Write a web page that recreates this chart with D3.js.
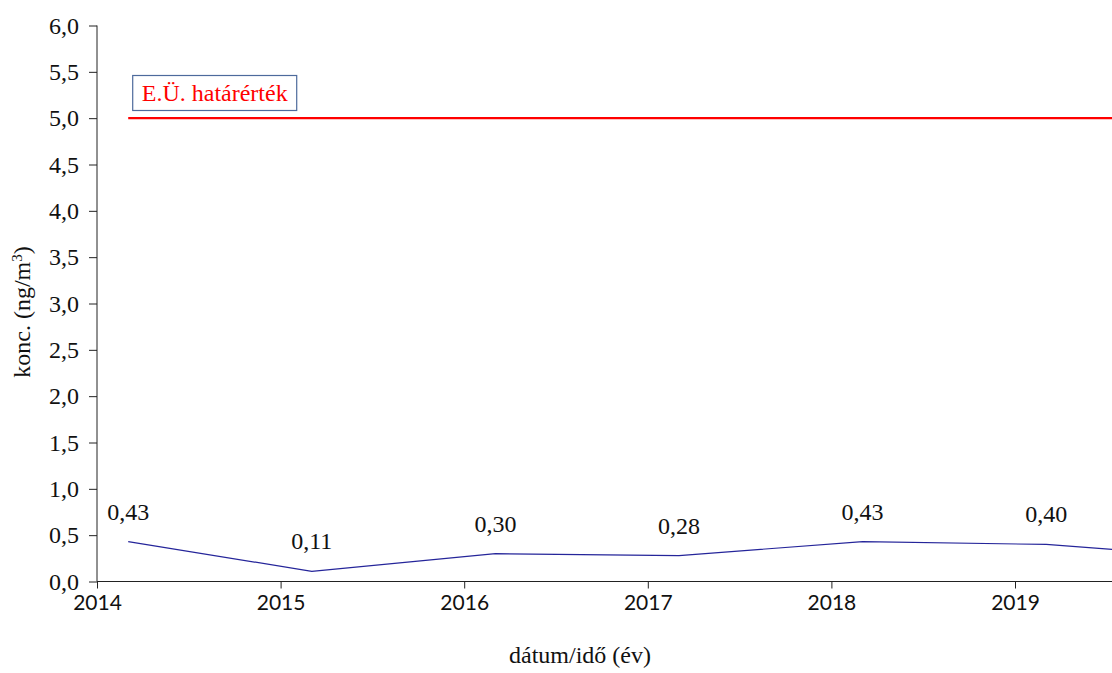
<!DOCTYPE html>
<html>
<head>
<meta charset="utf-8">
<script src="https://cdn.jsdelivr.net/npm/d3@7"></script>
<style>
  html, body { margin: 0; padding: 0; background: #fff; }
  svg { display: block; }
</style>
</head>
<body>
<svg id="chart" width="1112" height="673"></svg>
<script>
// ---- data ----
const years = [2014.17, 2015.17, 2016.17, 2017.17, 2018.17, 2019.17, 2020.17];
const values = [0.43, 0.11, 0.30, 0.28, 0.43, 0.40, 0.25];
const valueLabels = ["0,43", "0,11", "0,30", "0,28", "0,43", "0,40", "0,25"];
const limitYears = [2014.17, 2020.5];
const limitValues = [5.0, 5.0];
const limitLabel = "E.Ü. határérték";
const yTicks = [0, 0.5, 1, 1.5, 2, 2.5, 3, 3.5, 4, 4.5, 5, 5.5, 6];
const xTicks = [2014, 2015, 2016, 2017, 2018, 2019];
const xTitle = "dátum/idő (év)";

// ---- layout ----
const svg = d3.select("#chart");
const W = 1112, H = 673;
const plotLeft = 97, plotTop = 25.5, plotBottom = 581.5;
const pxPerYear = 183.6;
const x = d3.scaleLinear().domain([2014, 2020]).range([plotLeft, plotLeft + 6 * pxPerYear]);
const y = d3.scaleLinear().domain([0, 6]).range([plotBottom, plotTop]);
const serif = "'Liberation Serif', 'Times New Roman', serif";
const fs = 24;

svg.append("defs").append("clipPath").attr("id", "clip")
  .append("rect").attr("x", plotLeft).attr("y", 0).attr("width", W - plotLeft).attr("height", H);

// y axis
const yAxis = svg.append("g").attr("transform", `translate(${plotLeft},0)`)
  .call(d3.axisLeft(y).tickValues(yTicks).tickSize(8).tickPadding(10)
    .tickFormat(d => d3.format(".1f")(d).replace(".", ",")));
yAxis.selectAll("text").attr("font-family", serif).attr("font-size", fs).attr("fill", "#111");
yAxis.selectAll("line, path").attr("stroke", "#222");
yAxis.select(".domain").attr("d", `M0,${plotTop}V${plotBottom}`);

// x axis
const xAxis = svg.append("g").attr("transform", `translate(0,${plotBottom})`)
  .call(d3.axisBottom(x).tickValues(xTicks).tickSize(7).tickPadding(7).tickFormat(d3.format("d")));
xAxis.selectAll("text").attr("font-family", "Lato, 'Open Sans', sans-serif").attr("font-size", 21).attr("fill", "#111");
xAxis.selectAll("line, path").attr("stroke", "#222");
xAxis.select(".domain").attr("d", `M${plotLeft},0H${W}`);

const plot = svg.append("g").attr("clip-path", "url(#clip)");

// limit line
plot.append("path")
  .datum(limitYears.map((d, i) => [d, limitValues[i]]))
  .attr("d", d3.line().x(d => x(d[0])).y(d => y(d[1])))
  .attr("stroke", "#ff0000").attr("stroke-width", 2.2).attr("fill", "none");

// data line
const pts = years.map((d, i) => ({ x: d, v: values[i], l: valueLabels[i] }));
plot.append("path")
  .datum(pts)
  .attr("d", d3.line().x(d => x(d.x)).y(d => y(d.v)))
  .attr("stroke", "#25259a").attr("stroke-width", 1.2).attr("fill", "none");

// value labels (only for points inside the visible window)
plot.selectAll("text.lbl").data(pts.filter(d => x(d.x) + 25 < W)).enter().append("text")
  .attr("class", "lbl")
  .attr("x", d => x(d.x)).attr("y", d => y(d.v) - 22)
  .attr("text-anchor", "middle")
  .attr("font-family", serif).attr("font-size", fs).attr("fill", "#111")
  .text(d => d.l);

// limit label box
const lx = x(limitYears[0]);
svg.append("rect").attr("x", lx + 4.5).attr("y", 75.5).attr("width", 164).attr("height", 35)
  .attr("fill", "#fff").attr("stroke", "#4d6a9c").attr("stroke-width", 1.2);
svg.append("text").attr("x", lx + 4.5 + 82).attr("y", 101).attr("text-anchor", "middle")
  .attr("font-family", serif).attr("font-size", fs).attr("fill", "#ff0000")
  .text(limitLabel);

// axis titles
svg.append("text").attr("x", 580).attr("y", 663).attr("text-anchor", "middle")
  .attr("font-family", serif).attr("font-size", fs).attr("fill", "#111").text(xTitle);

const yt = svg.append("text").attr("transform", "translate(30,312) rotate(-90)")
  .attr("text-anchor", "middle")
  .attr("font-family", serif).attr("font-size", fs).attr("fill", "#111");
yt.append("tspan").text("konc. (ng/m");
yt.append("tspan").attr("dy", -8).attr("font-size", 15).text("3");
yt.append("tspan").attr("dy", 8).text(")");
</script>
</body>
</html>
